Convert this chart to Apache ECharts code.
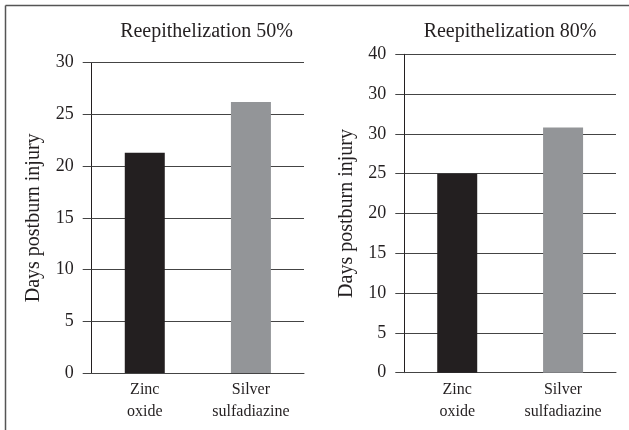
<!DOCTYPE html>
<html>
<head>
<meta charset="utf-8">
<script src="https://cdn.jsdelivr.net/npm/echarts@6/dist/echarts.min.js"></script>
<style>html,body{margin:0;padding:0;background:#fff}#c{width:629px;height:430px}</style>
</head>
<body>
<div id="c"></div>
<script>
const categories = ['Zinc\noxide', 'Silver\nsulfadiazine'];
const values50 = [21.3, 26.2];
const values80 = [25, 30.8];
const ticks50 = ['0', '5', '10', '15', '20', '25', '30'];
const ticks80 = ['0', '5', '10', '15', '20', '25', '30', '30', '40'];
const titles = ['Reepithelization 50%', 'Reepithelization 80%'];
const yName = 'Days postburn injury';
const barColors = ['#231f20', '#939598'];

const FONT = 'Liberation Serif';
const TXT = '#231f20';
const chart = echarts.init(document.getElementById('c'), null, {renderer: 'canvas'});

function yAxis(idx, max, ticks) {
  return {
    type: 'value', gridIndex: idx, min: 0, max: max, interval: 5,
    name: yName, nameLocation: 'middle', nameGap: 48,
    nameTextStyle: {fontFamily: FONT, fontSize: 20, color: TXT},
    axisLine: {show: true, lineStyle: {color: '#231f20', width: 1}},
    axisTick: {show: true, length: 9, inside: false, lineStyle: {color: '#444', width: 1}},
    axisLabel: {fontFamily: FONT, fontSize: 18, color: TXT, margin: 18,
      formatter: v => ticks[Math.round(v / 5)]},
    splitLine: {show: true, lineStyle: {color: '#444', width: 1}}
  };
}
function xAxis(idx) {
  return {
    type: 'category', gridIndex: idx, data: categories,
    axisLine: {show: true, onZero: false, lineStyle: {color: '#444', width: 1}},
    axisTick: {show: false},
    axisLabel: {fontFamily: FONT, fontSize: 16, color: TXT, lineHeight: 22, margin: 6}
  };
}

chart.setOption({
  animation: false,
  title: [
    {text: titles[0], left: 201.5, top: 17, textAlign: 'center',
      textStyle: {fontFamily: FONT, fontSize: 20, fontWeight: 'normal', color: TXT}},
    {text: titles[1], left: 505, top: 17, textAlign: 'center',
      textStyle: {fontFamily: FONT, fontSize: 20, fontWeight: 'normal', color: TXT}}
  ],
  grid: [
    {left: 91.7, right: 325, top: 62.7, bottom: 57},
    {left: 404.3, right: 13, top: 54.3, bottom: 57.3}
  ],
  xAxis: [xAxis(0), xAxis(1)],
  yAxis: [yAxis(0, 30, ticks50), yAxis(1, 40, ticks80)],
  series: [
    {type: 'bar', xAxisIndex: 0, yAxisIndex: 0, barWidth: 40,
      data: values50.map((v, i) => ({value: v, itemStyle: {color: barColors[i]}}))},
    {type: 'bar', xAxisIndex: 1, yAxisIndex: 1, barWidth: 40,
      data: values80.map((v, i) => ({value: v, itemStyle: {color: barColors[i]}}))}
  ],
  graphic: [
    {type: 'line', shape: {x1: 5.5, y1: 5.5, x2: 629, y2: 5.5}, style: {stroke: '#555', lineWidth: 1.5}},
    {type: 'line', shape: {x1: 5.5, y1: 5.5, x2: 5.5, y2: 430}, style: {stroke: '#555', lineWidth: 1.5}}
  ]
});
</script>
</body>
</html>
